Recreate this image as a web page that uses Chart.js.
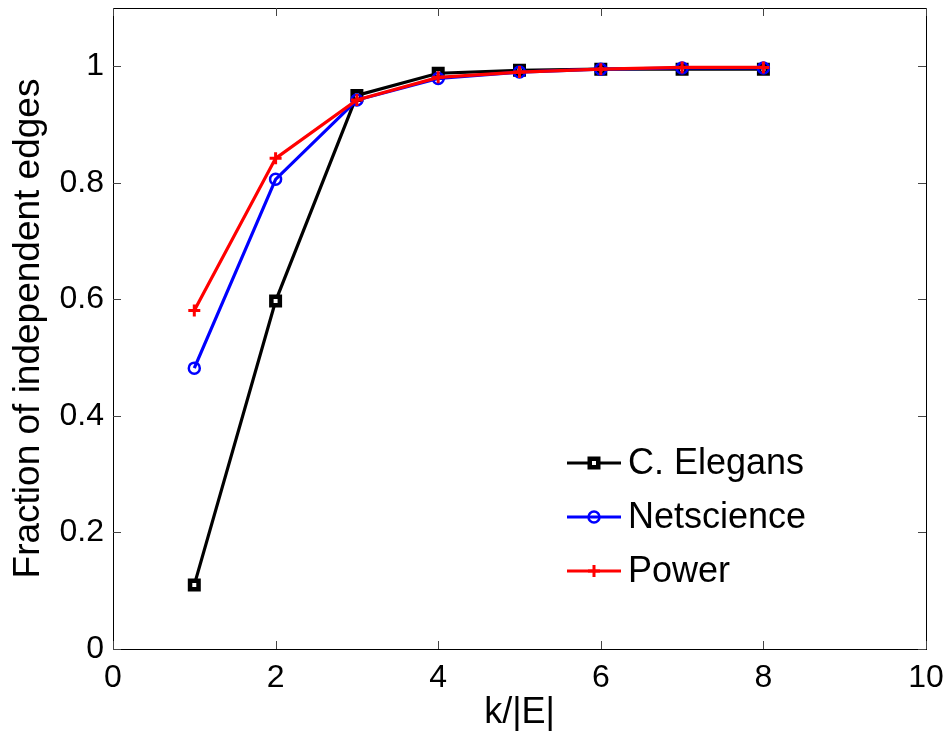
<!DOCTYPE html>
<html>
<head>
<meta charset="utf-8">
<script src="https://cdn.jsdelivr.net/npm/chart.js@4.4.1/dist/chart.umd.min.js"></script>
<style>
  html, body { margin: 0; padding: 0; background: #fff; }
  #wrap { width: 945px; height: 731px; }
</style>
</head>
<body>
<div id="wrap"><canvas id="chart" width="945" height="731"></canvas></div>
<script>
// --- data ---
const kValues = [1, 2, 3, 4, 5, 6, 7, 8];
const elegans = [0.110, 0.597, 0.950, 0.988, 0.993, 0.995, 0.995, 0.995];
const netscience = [0.482, 0.806, 0.942, 0.979, 0.990, 0.995, 0.997, 0.997];
const power = [0.581, 0.842, 0.942, 0.981, 0.990, 0.995, 0.998, 0.998];
const seriesNames = ["C. Elegans", "Netscience", "Power"];
const xTicks = [0, 2, 4, 6, 8, 10];
const yTicks = [0, 0.2, 0.4, 0.6, 0.8, 1];

const FONT = "'Liberation Sans', Arial, Helvetica, sans-serif";

const toPoints = (ys) => kValues.map((k, i) => ({ x: k, y: ys[i] }));

// MATLAB style box with inward ticks on all four sides
const boxPlugin = {
    id: "box",
    afterDatasetsDraw(chart) {
        const { ctx, chartArea: a, scales } = chart;
        ctx.save();
        ctx.strokeStyle = "#000";
        ctx.lineWidth = 1;
        ctx.strokeRect(a.left + 0.5, a.top + 0.5, a.right - a.left, a.bottom - a.top);
        ctx.strokeStyle = "#444";
        ctx.beginPath();
        xTicks.forEach(v => {
            const px = Math.round(scales.x.getPixelForValue(v)) + 0.5;
            ctx.moveTo(px, a.bottom); ctx.lineTo(px, a.bottom - 8);
            ctx.moveTo(px, a.top); ctx.lineTo(px, a.top + 8);
        });
        yTicks.forEach(v => {
            const py = Math.round(scales.y.getPixelForValue(v)) + 0.5;
            ctx.moveTo(a.left, py); ctx.lineTo(a.left + 8, py);
            ctx.moveTo(a.right, py); ctx.lineTo(a.right - 8, py);
        });
        ctx.stroke();
        ctx.restore();
    }
};

// legend box inside the plot, lower right
const legendPlugin = {
    id: "insideLegend",
    afterDraw(chart) {
        const { ctx } = chart;
        const x0 = 567, x1 = 621, rows = [463, 517, 571];
        ctx.save();
        chart.data.datasets.forEach((ds, i) => {
            const y = rows[i];
            ctx.strokeStyle = ds.borderColor;
            ctx.lineWidth = ds.borderWidth;
            ctx.beginPath();
            ctx.moveTo(x0, y); ctx.lineTo(x1, y);
            ctx.stroke();
            ctx.fillStyle = ds.backgroundColor;
            ctx.lineWidth = ds.pointBorderWidth;
            Chart.helpers.drawPoint(ctx, {
                pointStyle: ds.pointStyle,
                radius: ds.pointRadius,
                borderWidth: ds.pointBorderWidth,
                rotation: 0
            }, (x0 + x1) / 2, y);
            ctx.fillStyle = "#000";
            ctx.font = "36px " + FONT;
            ctx.textBaseline = "middle";
            ctx.textAlign = "left";
            ctx.fillText(ds.label, 628, y + 1);
        });
        ctx.restore();
    }
};

const common = { borderWidth: 3.2, tension: 0, showLine: true, fill: false };
const tickLabel = v => String(v);

new Chart(document.getElementById("chart"), {
    type: "scatter",
    data: {
        datasets: [
            { ...common, label: seriesNames[0], data: toPoints(elegans), order: 3,
              borderColor: "#000000", backgroundColor: "#ffffff",
              pointStyle: "rect", pointRadius: 6, pointBorderWidth: 4.5 },
            { ...common, label: seriesNames[1], data: toPoints(netscience), order: 2,
              borderColor: "#0000ff", backgroundColor: "rgba(0,0,0,0)",
              pointStyle: "circle", pointRadius: 5.5, pointBorderWidth: 2.5 },
            { ...common, label: seriesNames[2], data: toPoints(power), order: 1,
              borderColor: "#ff0000", backgroundColor: "#ff0000",
              pointStyle: "cross", pointRadius: 6, pointBorderWidth: 3 }
        ]
    },
    options: {
        responsive: false,
        animation: false,
        devicePixelRatio: 1,
        layout: { autoPadding: false, padding: { left: 0, right: 19, top: 8, bottom: 0 } },
        plugins: { legend: { display: false }, tooltip: { enabled: false } },
        elements: { point: { hoverRadius: 6 } },
        scales: {
            x: {
                type: "linear", min: 0, max: 10,
                grid: { display: false, drawTicks: false },
                border: { display: false },
                afterBuildTicks: s => { s.ticks = xTicks.map(v => ({ value: v })); },
                afterFit: s => { s.height = 82; s.paddingLeft = 0; s.paddingRight = 0; },
                ticks: { color: "#000", padding: 10, callback: tickLabel,
                         font: { size: 32, family: FONT } },
                title: { display: true, text: "k/|E|", color: "#000", padding: { top: 0, bottom: 0 },
                         font: { size: 36, family: FONT, lineHeight: 1 } }
            },
            y: {
                type: "linear", min: 0, max: 1.1,
                grid: { display: false, drawTicks: false },
                border: { display: false },
                afterBuildTicks: s => { s.ticks = yTicks.map(v => ({ value: v })); },
                afterFit: s => { s.width = 113; s.paddingTop = 0; s.paddingBottom = 0; },
                ticks: { color: "#000", padding: 9, callback: tickLabel,
                         font: { size: 32, family: FONT } },
                title: { display: true, text: "Fraction of independent edges", color: "#000",
                         padding: { top: 10, bottom: 0 },
                         font: { size: 37, family: FONT, lineHeight: 1 } }
            }
        }
    },
    plugins: [boxPlugin, legendPlugin]
});
</script>
</body>
</html>
